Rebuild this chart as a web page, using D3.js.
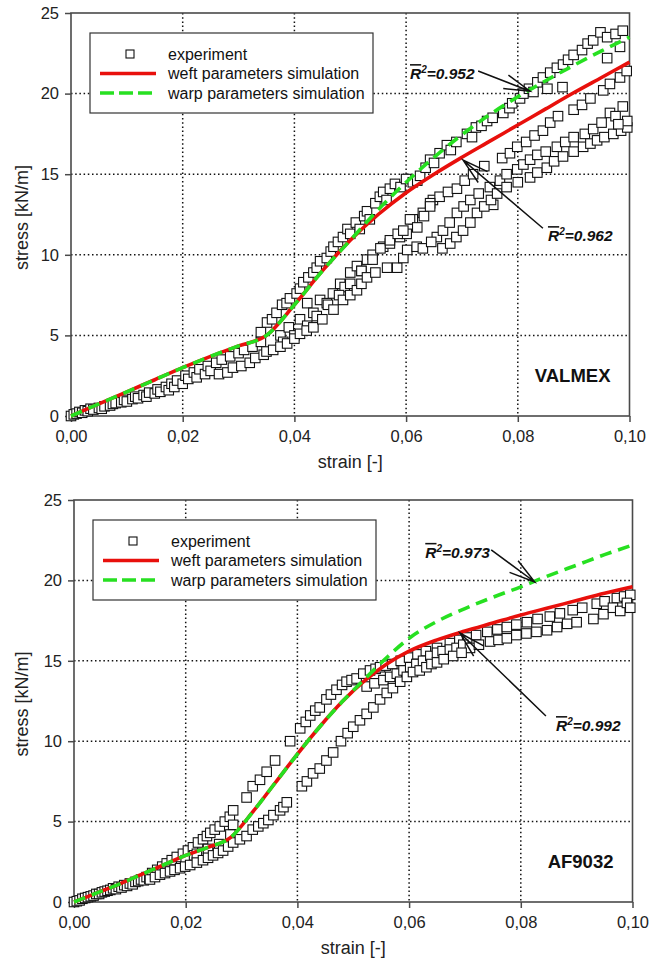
<!DOCTYPE html>
<html>
<head>
<meta charset="utf-8">
<script src="https://cdn.jsdelivr.net/npm/d3@7"></script>
<style>
	body { margin: 0; background: #fff; }
	svg { display: block; font-family: "Liberation Sans", Arial, sans-serif; }
</style>
</head>
<body>
<div id="chart"></div>
<script>
(function (d3) {
	'use strict';

	// ---- data ----
	const xTicks = [0, 0.02, 0.04, 0.06, 0.08, 0.10];
	const yTicks = [0, 5, 10, 15, 20, 25];
	const legendLabels = ["experiment", "weft parameters simulation", "warp parameters simulation"];

	// VALMEX simulations
	const valmexStrain = [0, 0.005, 0.01, 0.015, 0.02, 0.025, 0.03, 0.035, 0.04, 0.045, 0.05, 0.055, 0.06, 0.065, 0.07, 0.075, 0.08, 0.085, 0.09, 0.095, 0.1];
	const valmexWeft = [0, 0.75, 1.5, 2.25, 3.0, 3.7, 4.35, 5.0, 6.9, 9.0, 10.9, 12.5, 13.85, 15.0, 16.05, 17.05, 18.05, 19.05, 20.05, 21.0, 21.95];
	const valmexWarp = [0, 0.75, 1.5, 2.25, 3.0, 3.7, 4.35, 5.0, 6.9, 9.0, 10.9, 12.8, 14.5, 16.05, 17.45, 18.7, 19.8, 20.8, 21.75, 22.65, 23.5];

	// VALMEX experiment [strain, stress]
	const valmexExpLow = [[0.000, 0.0], [0.0005, 0.1], [0.001, 0.15], [0.0015, 0.25], [0.002, 0.2], [0.0025, 0.35], [0.003, 0.3], [0.0035, 0.45], [0.004, 0.4], [0.005, 0.5], [0.0055, 0.45], [0.006, 0.6], [0.007, 0.65], [0.0075, 0.75], [0.008, 0.8], [0.009, 0.85], [0.0095, 1.0], [0.010, 0.9], [0.011, 1.05], [0.0115, 1.2], [0.012, 1.1], [0.013, 1.3], [0.0135, 1.2], [0.014, 1.45], [0.015, 1.4], [0.0155, 1.65], [0.016, 1.5], [0.017, 1.8], [0.0175, 1.6], [0.018, 2.0], [0.0185, 1.8], [0.019, 2.2], [0.020, 2.0], [0.0205, 2.5], [0.021, 2.3], [0.022, 2.7], [0.0225, 2.4], [0.023, 2.9], [0.024, 2.6], [0.0245, 3.1], [0.025, 2.8], [0.026, 3.3], [0.0265, 2.6], [0.027, 3.5], [0.028, 2.7], [0.0285, 3.7], [0.029, 3.0], [0.030, 3.9], [0.0305, 3.1], [0.031, 4.1], [0.032, 3.3], [0.0325, 4.3], [0.033, 3.6], [0.034, 4.6], [0.0345, 3.8], [0.035, 4.0]];
	const valmexExpUpper = [[0.034, 5.2], [0.0351, 5.8], [0.036, 6.0], [0.0368, 6.4], [0.0378, 6.9], [0.0386, 7.0], [0.0392, 7.3], [0.0404, 7.6], [0.041, 7.9], [0.0416, 8.3], [0.0425, 8.6], [0.0434, 8.9], [0.044, 9.2], [0.0446, 9.6], [0.0458, 9.8], [0.0465, 10.2], [0.047, 10.5], [0.0478, 10.8], [0.0487, 11.1], [0.0495, 11.6], [0.050, 11.3], [0.051, 12.0], [0.0517, 11.6], [0.0525, 12.4], [0.053, 12.7], [0.0535, 12.2], [0.0545, 13.2], [0.0553, 13.6], [0.0559, 13.9], [0.0565, 13.4], [0.0571, 14.1], [0.058, 14.4], [0.059, 14.2], [0.060, 14.7], [0.0612, 14.5], [0.062, 14.6], [0.0625, 14.9], [0.0635, 15.4], [0.0643, 15.9], [0.065, 15.7], [0.066, 16.3], [0.0673, 16.8], [0.068, 16.5], [0.069, 17.0], [0.0709, 17.5], [0.0718, 17.3], [0.0725, 17.9], [0.0735, 18.0], [0.0745, 18.3], [0.0755, 18.5], [0.0774, 18.8], [0.0785, 19.1], [0.079, 19.4], [0.0804, 19.7], [0.081, 20.0], [0.082, 20.3], [0.0828, 20.1], [0.0835, 20.7], [0.0845, 21.0], [0.0858, 21.3], [0.087, 21.6], [0.0881, 21.8], [0.089, 22.1], [0.090, 22.4], [0.0915, 22.7], [0.0925, 23.1], [0.0935, 23.3], [0.0948, 23.8], [0.096, 23.5], [0.0975, 23.7], [0.0988, 23.9]];
	const valmexExpMid = [[0.0375, 5.0], [0.039, 5.5], [0.041, 6.0], [0.0423, 7.0], [0.0434, 6.4], [0.0446, 7.2], [0.0458, 7.0], [0.0469, 7.6], [0.0482, 8.2], [0.049, 8.0], [0.050, 8.9], [0.0512, 9.3], [0.052, 9.0], [0.053, 9.7], [0.054, 10.0], [0.0559, 10.5], [0.0571, 10.7], [0.0589, 11.1], [0.0601, 11.3], [0.0612, 12.2], [0.063, 12.6], [0.0648, 13.4], [0.066, 13.6], [0.0643, 13.2], [0.0675, 13.9], [0.0691, 14.1], [0.0705, 14.6], [0.072, 15.0], [0.074, 15.5], [0.0756, 13.1], [0.0772, 16.0], [0.0786, 16.3], [0.0799, 16.7], [0.0815, 17.0], [0.083, 17.4], [0.0845, 17.7], [0.0858, 18.2], [0.0872, 18.6], [0.0853, 20.3], [0.088, 20.4], [0.090, 19.0], [0.0915, 19.3], [0.093, 19.7], [0.0953, 20.2], [0.0965, 20.6], [0.0983, 21.0], [0.0995, 21.4], [0.096, 22.2], [0.0983, 22.9]];
	const valmexExpLowerA = [[0.038, 4.6], [0.040, 5.0], [0.0423, 5.6], [0.044, 6.2], [0.046, 6.9], [0.048, 7.5], [0.050, 8.2], [0.052, 9.0], [0.054, 9.7], [0.0554, 10.4], [0.0571, 10.9], [0.0585, 11.3], [0.0595, 11.5], [0.0607, 12.2], [0.062, 11.7], [0.0632, 12.4], [0.0643, 13.0], [0.0655, 11.1], [0.0666, 11.5], [0.0678, 12.0], [0.0691, 12.6], [0.0703, 13.0], [0.0715, 13.4], [0.073, 13.8], [0.075, 14.2], [0.0768, 14.6], [0.078, 15.0], [0.0799, 15.3], [0.081, 15.6], [0.0822, 15.9], [0.0835, 16.2], [0.085, 16.4], [0.087, 16.7], [0.0885, 17.0], [0.090, 17.3], [0.092, 17.5], [0.0935, 17.8], [0.095, 18.2], [0.0965, 18.8], [0.0975, 18.6], [0.0988, 19.2]];
	const valmexExpLowerB = [[0.0362, 4.1], [0.0375, 4.3], [0.0387, 4.5], [0.040, 4.8], [0.041, 5.1], [0.0422, 5.3], [0.0434, 5.5], [0.045, 6.0], [0.047, 6.6], [0.0487, 7.2], [0.050, 7.5], [0.0512, 7.8], [0.052, 8.2], [0.053, 8.6], [0.0545, 8.9], [0.0566, 9.2], [0.0584, 9.2], [0.0595, 9.8], [0.0602, 10.3], [0.0619, 10.5], [0.063, 10.4], [0.0645, 10.8], [0.0665, 10.4], [0.0679, 10.7], [0.069, 11.1], [0.0702, 11.5], [0.0715, 12.0], [0.0727, 12.6], [0.074, 13.0], [0.0752, 13.4], [0.0763, 13.8], [0.078, 14.2], [0.080, 14.5], [0.0822, 14.8], [0.0835, 15.1], [0.0852, 15.4], [0.0865, 15.8], [0.0881, 16.1], [0.090, 16.4], [0.0917, 16.7], [0.093, 16.9], [0.0942, 17.1], [0.0955, 17.3], [0.0971, 17.5], [0.0985, 17.7], [0.0996, 17.9], [0.0996, 18.3], [0.098, 18.1]];

	// AF9032 simulations
	const afStrain = [0, 0.004, 0.008, 0.012, 0.016, 0.02, 0.024, 0.028, 0.032, 0.036, 0.04, 0.044, 0.048, 0.052, 0.056, 0.06, 0.065, 0.07, 0.075, 0.08, 0.085, 0.09, 0.095, 0.1];
	const afWeft = [0, 0.55, 1.1, 1.7, 2.3, 2.9, 3.4, 4.0, 5.6, 7.4, 9.2, 10.9, 12.45, 13.75, 14.8, 15.6, 16.3, 16.85, 17.35, 17.85, 18.3, 18.75, 19.2, 19.6];
	const afWarp = [0, 0.55, 1.1, 1.7, 2.3, 2.9, 3.4, 4.0, 5.6, 7.4, 9.2, 10.9, 12.45, 13.85, 15.2, 16.4, 17.45, 18.25, 18.95, 19.6, 20.3, 20.95, 21.6, 22.2];

	// AF9032 experiment [strain, stress]
	const afExpLow = [[0.000, 0.0], [0.0005, 0.05], [0.001, 0.1], [0.0015, 0.2], [0.002, 0.25], [0.0025, 0.3], [0.003, 0.35], [0.0035, 0.4], [0.004, 0.5], [0.0045, 0.5], [0.005, 0.6], [0.0055, 0.65], [0.006, 0.7], [0.0065, 0.75], [0.007, 0.85], [0.0075, 0.8], [0.008, 0.95], [0.0085, 0.9], [0.009, 1.05], [0.0095, 1.0], [0.010, 1.15], [0.0105, 1.1], [0.011, 1.25], [0.0115, 1.3], [0.012, 1.4], [0.0125, 1.35], [0.013, 1.55], [0.0135, 1.45]];
	const afExpUpper = [[0.014, 1.8], [0.0149, 2.0], [0.0158, 2.2], [0.0166, 2.4], [0.0175, 2.6], [0.0184, 2.8], [0.0195, 3.0], [0.0204, 3.2], [0.0213, 3.4], [0.0222, 3.7], [0.0231, 3.9], [0.0238, 4.1], [0.0244, 4.3], [0.0252, 4.5], [0.0261, 4.7], [0.027, 5.0], [0.0279, 5.3], [0.0285, 5.7], [0.0309, 6.5], [0.032, 7.2], [0.0333, 7.6], [0.0345, 8.1], [0.036, 8.8], [0.0387, 10.0], [0.0405, 10.8], [0.0415, 11.2], [0.0423, 11.6], [0.0432, 11.9], [0.044, 12.1], [0.0452, 12.6], [0.046, 12.9], [0.047, 13.2], [0.048, 13.5], [0.0488, 13.7], [0.0497, 13.8], [0.0506, 13.9], [0.0518, 14.2], [0.053, 14.4], [0.054, 14.5], [0.0548, 14.6], [0.0558, 14.7], [0.057, 14.8], [0.0585, 15.0], [0.060, 15.2], [0.0615, 15.4], [0.063, 15.6], [0.065, 15.8], [0.0673, 16.1], [0.069, 16.3], [0.0704, 16.45], [0.072, 16.6], [0.074, 16.8], [0.0758, 16.95], [0.0775, 17.1], [0.0792, 17.25], [0.0811, 17.4], [0.083, 17.6], [0.0852, 17.75], [0.087, 17.95], [0.0893, 18.15], [0.091, 18.3], [0.0936, 18.55], [0.095, 18.7], [0.0972, 18.9], [0.0985, 19.0], [0.0996, 19.1]];
	const afExpMid = [[0.020, 2.6], [0.0215, 2.9], [0.022, 3.0], [0.024, 3.3], [0.026, 3.6], [0.028, 4.2], [0.0285, 4.8], [0.0524, 13.4], [0.0538, 13.6], [0.0554, 13.8], [0.0566, 14.0], [0.0578, 14.2], [0.059, 14.4], [0.0602, 14.6], [0.0613, 14.8], [0.0625, 15.0], [0.0638, 15.3], [0.065, 15.5], [0.066, 15.6], [0.0673, 15.7], [0.0685, 15.8], [0.0697, 16.0], [0.0709, 15.8], [0.0725, 16.0], [0.0745, 16.2], [0.076, 16.3], [0.0775, 16.4], [0.0792, 16.6], [0.081, 16.7], [0.0828, 16.8], [0.0847, 16.9], [0.0865, 17.1], [0.0883, 17.3], [0.090, 17.4], [0.093, 17.6], [0.0948, 17.9], [0.0965, 18.3], [0.0978, 18.1], [0.099, 18.6], [0.0996, 18.3]];
	const afExpLower = [[0.0136, 1.4], [0.0145, 1.55], [0.0154, 1.7], [0.0163, 1.8], [0.0172, 1.9], [0.018, 2.0], [0.019, 2.1], [0.0199, 2.2], [0.0208, 2.3], [0.022, 2.45], [0.0231, 2.6], [0.024, 2.75], [0.0249, 2.9], [0.0258, 3.05], [0.0267, 3.2], [0.0276, 3.45], [0.0285, 3.7], [0.0297, 3.9], [0.0309, 4.1], [0.032, 4.5], [0.033, 4.7], [0.0339, 4.9], [0.0348, 5.1], [0.0357, 5.4], [0.0369, 5.7], [0.0375, 5.9], [0.0381, 6.2], [0.0408, 7.2], [0.0417, 7.5], [0.0428, 8.0], [0.044, 8.3], [0.0452, 8.8], [0.0464, 9.3], [0.0478, 10.0], [0.049, 10.5], [0.050, 10.9], [0.0512, 11.3], [0.0524, 11.7], [0.0536, 12.1], [0.0548, 12.6], [0.056, 13.0], [0.0571, 13.3], [0.0584, 13.7], [0.0596, 14.0], [0.0607, 14.3], [0.0619, 14.4], [0.0631, 14.6], [0.064, 14.8], [0.065, 14.9], [0.0662, 15.1], [0.0679, 15.3], [0.0694, 15.5]];

	// R^2 notes: label anchor, arrow tail, arrow tip (data units)
	const valmexNotes = [
		{ r2: "0.952", label: [0.0607, 20.9], from: [0.0729, 21.4], to: [0.0822, 20.15] },
		{ r2: "0.962", label: [0.0854, 10.85], from: [0.0845, 11.65], to: [0.0702, 15.87] }
	];
	const afNotes = [
		{ r2: "0.973", label: [0.0629, 21.4], from: [0.0747, 21.9], to: [0.0825, 19.9] },
		{ r2: "0.992", label: [0.0863, 10.63], from: [0.0845, 11.57], to: [0.0691, 16.73] }
	];

	// ---- layout ----
	const W = 659, H = 962;
	const panels = [
		{
			name: "VALMEX", left: 71, top: 13, width: 558.5, height: 403,
			strain: valmexStrain, weft: valmexWeft, warp: valmexWarp,
			exp: [valmexExpLow, valmexExpUpper, valmexExpMid, valmexExpLowerA, valmexExpLowerB],
			notes: valmexNotes
		},
		{
			name: "AF9032", left: 74, top: 500, width: 558.5, height: 402,
			strain: afStrain, weft: afWeft, warp: afWarp,
			exp: [afExpLow, afExpUpper, afExpMid, afExpLower],
			notes: afNotes
		}
	];

	const RED = "#e8100c";
	const GREEN = "#27e021";
	const AXIS = "#4a4a4a";

	const svg = d3.select("#chart").append("svg")
		.attr("width", W).attr("height", H);

	const fmtX = d => d3.format(".2f")(d).replace(".", ",");

	panels.forEach(p => {
		const g = svg.append("g").attr("transform", `translate(${p.left},${p.top})`);
		const x = d3.scaleLinear().domain([0, 0.1]).range([0, p.width]);
		const y = d3.scaleLinear().domain([0, 25]).range([p.height, 0]);

		// dotted grid
		g.append("g").selectAll("line")
			.data(xTicks.slice(1, -1)).join("line")
			.attr("x1", d => x(d)).attr("x2", d => x(d))
			.attr("y1", 0).attr("y2", p.height);
		g.append("g").selectAll("line")
			.data(yTicks.slice(1, -1)).join("line")
			.attr("x1", 0).attr("x2", p.width)
			.attr("y1", d => y(d)).attr("y2", d => y(d));
		g.selectAll("g line")
			.attr("stroke", "#111")
			.attr("stroke-width", 1.5)
			.attr("stroke-dasharray", "1.5,2.7");

		// axes
		const xAxisG = g.append("g")
			.attr("transform", `translate(0,${p.height})`)
			.call(d3.axisBottom(x).tickValues(xTicks).tickFormat(fmtX).tickSize(6).tickPadding(8));
		const yAxisG = g.append("g")
			.call(d3.axisLeft(y).tickValues(yTicks).tickSize(6).tickPadding(6));
		[xAxisG, yAxisG].forEach(a => {
			a.select(".domain").remove();
			a.selectAll(".tick line").attr("stroke", AXIS).attr("stroke-width", 1.5);
			a.selectAll(".tick text")
				.attr("fill", "#222")
				.style("font-size", "16.5px")
				.style("font-family", "'Liberation Sans', Arial, sans-serif");
		});

		// frame
		g.append("rect")
			.attr("width", p.width).attr("height", p.height)
			.attr("fill", "none").attr("stroke", AXIS).attr("stroke-width", 1.6);

		// axis titles
		g.append("text")
			.attr("x", p.width / 2).attr("y", p.height + 52)
			.attr("text-anchor", "middle")
			.attr("fill", "#222")
			.style("font-size", "18px")
			.text("strain [-]");
		g.append("text")
			.attr("transform", `translate(${28 - p.left},${p.height / 2 + 3}) rotate(-90)`)
			.attr("text-anchor", "middle")
			.attr("fill", "#222")
			.style("font-size", "18px")
			.text("stress [kN/m]");

		// experiment squares
		const pts = [].concat(...p.exp);
		g.append("g").selectAll("rect")
			.data(pts).join("rect")
			.attr("x", d => x(d[0]) - 4.75)
			.attr("y", d => y(d[1]) - 4.75)
			.attr("width", 9.5).attr("height", 9.5)
			.attr("fill", "#fff")
			.attr("stroke", "#111")
			.attr("stroke-width", 1.1);

		// simulation curves
		const line = d3.line()
			.x(d => x(d[0])).y(d => y(d[1]))
			.curve(d3.curveMonotoneX);
		g.append("path")
			.datum(p.strain.map((s, i) => [s, p.weft[i]]))
			.attr("d", line)
			.attr("fill", "none").attr("stroke", RED).attr("stroke-width", 3.6);
		g.append("path")
			.datum(p.strain.map((s, i) => [s, p.warp[i]]))
			.attr("d", line)
			.attr("fill", "none").attr("stroke", GREEN).attr("stroke-width", 3.6)
			.attr("stroke-dasharray", "12,7");

		// R^2 annotations
		p.notes.forEach(n => {
			const t = g.append("text")
				.attr("x", x(n.label[0])).attr("y", y(n.label[1]))
				.attr("fill", "#111")
				.style("font-size", "15.5px")
				.style("font-weight", "bold")
				.style("font-style", "italic");
			t.append("tspan").style("text-decoration", "overline").text("R");
			t.append("tspan").attr("dy", -6).style("font-size", "10px").text("2");
			t.append("tspan").attr("dy", 6).text("=" + n.r2);

			const x0 = x(n.from[0]), y0 = y(n.from[1]);
			const x1 = x(n.to[0]), y1 = y(n.to[1]);
			const ang = Math.atan2(y0 - y1, x0 - x1);
			const len = 27, spread = 0.27;
			const head = [ang - spread, ang + spread].map(a => [x1 + len * Math.cos(a), y1 + len * Math.sin(a)]);
			g.append("path")
				.attr("d", `M${x0},${y0}L${x1},${y1}M${head[0][0]},${head[0][1]}L${x1},${y1}L${head[1][0]},${head[1][1]}`)
				.attr("fill", "none").attr("stroke", "#111").attr("stroke-width", 1.5);
		});

		// material label
		g.append("text")
			.attr("x", p.width - 19).attr("y", p.height - 34)
			.attr("text-anchor", "end")
			.attr("fill", "#111")
			.style("font-size", "18.5px")
			.style("font-weight", "bold")
			.text(p.name);

		// legend
		const lg = g.append("g").attr("transform", "translate(19,20)");
		lg.append("rect")
			.attr("width", 283).attr("height", 80)
			.attr("fill", "#fff").attr("stroke", "#333").attr("stroke-width", 1.2);
		const rowY = [21, 40.5, 60];
		lg.append("rect")
			.attr("x", 36).attr("y", rowY[0] - 4).attr("width", 8).attr("height", 8)
			.attr("fill", "#fff").attr("stroke", "#111").attr("stroke-width", 1.1);
		lg.append("line")
			.attr("x1", 10).attr("x2", 66).attr("y1", rowY[1]).attr("y2", rowY[1])
			.attr("stroke", RED).attr("stroke-width", 3.6);
		lg.append("line")
			.attr("x1", 10).attr("x2", 66).attr("y1", rowY[2]).attr("y2", rowY[2])
			.attr("stroke", GREEN).attr("stroke-width", 3.6).attr("stroke-dasharray", "14,5");
		lg.selectAll("text.lab")
			.data(legendLabels).join("text")
			.attr("class", "lab")
			.attr("x", 78).attr("y", (d, i) => rowY[i] + 5.5)
			.attr("fill", "#111")
			.style("font-size", "16px")
			.text(d => d);
	});
}(d3));
</script>
</body>
</html>
